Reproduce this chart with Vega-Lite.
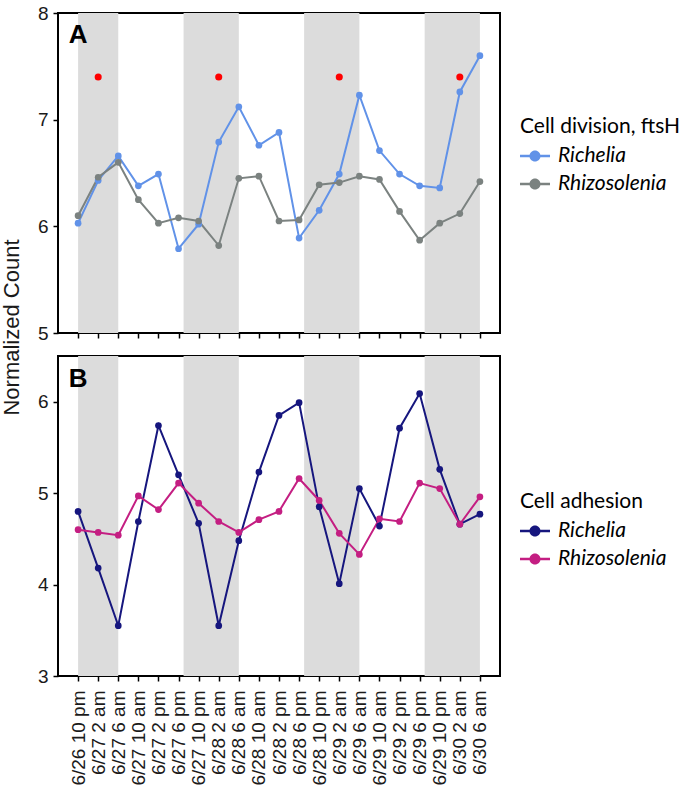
{
  "$schema": "https://vega.github.io/schema/vega-lite/v6.json",
  "padding": {"left": -1, "top": 3, "right": 5, "bottom": 5},
  "background": "white",
  "bounds": "flush",
  "spacing": 23,
  "config": {
    "font": "Liberation Sans",
    "view": {"stroke": "black", "strokeWidth": 2},
    "axis": {
      "grid": false,
      "domain": false,
      "tickColor": "black",
      "tickWidth": 1.5,
      "tickSize": 5,
      "labelFont": "Liberation Sans",
      "labelFontSize": 19,
      "labelColor": "#1a1a1a",
      "titleFont": "Liberation Sans",
      "titleFontWeight": "normal",
      "titleColor": "#1a1a1a"
    },
    "legend": {
      "labelFont": "Lato",
      "labelFontStyle": "italic",
      "labelFontSize": 21,
      "labelColor": "black",
      "titleFont": "Lato",
      "titleFontSize": 21,
      "titleFontWeight": "normal",
      "titleColor": "black",
      "labelOffset": 8,
      "rowPadding": 3,
      "titlePadding": 4,
      "padding": 0
    }
  },
  "datasets": {
    "bands": [
      {"hour": 0, "hourEnd": 8},
      {"hour": 21, "hourEnd": 32},
      {"hour": 45, "hourEnd": 56},
      {"hour": 69, "hourEnd": 80}
    ],
    "division": [
      {"hour": 0, "species": "Richelia", "value": 6.03},
      {"hour": 4, "species": "Richelia", "value": 6.43},
      {"hour": 8, "species": "Richelia", "value": 6.66},
      {"hour": 12, "species": "Richelia", "value": 6.38},
      {"hour": 16, "species": "Richelia", "value": 6.49},
      {"hour": 20, "species": "Richelia", "value": 5.79},
      {"hour": 24, "species": "Richelia", "value": 6.02},
      {"hour": 28, "species": "Richelia", "value": 6.79},
      {"hour": 32, "species": "Richelia", "value": 7.12},
      {"hour": 36, "species": "Richelia", "value": 6.76},
      {"hour": 40, "species": "Richelia", "value": 6.88},
      {"hour": 44, "species": "Richelia", "value": 5.89},
      {"hour": 48, "species": "Richelia", "value": 6.15},
      {"hour": 52, "species": "Richelia", "value": 6.49},
      {"hour": 56, "species": "Richelia", "value": 7.23},
      {"hour": 60, "species": "Richelia", "value": 6.71},
      {"hour": 64, "species": "Richelia", "value": 6.49},
      {"hour": 68, "species": "Richelia", "value": 6.38},
      {"hour": 72, "species": "Richelia", "value": 6.36},
      {"hour": 76, "species": "Richelia", "value": 7.26},
      {"hour": 80, "species": "Richelia", "value": 7.60},
      {"hour": 0, "species": "Rhizosolenia", "value": 6.10},
      {"hour": 4, "species": "Rhizosolenia", "value": 6.46},
      {"hour": 8, "species": "Rhizosolenia", "value": 6.60},
      {"hour": 12, "species": "Rhizosolenia", "value": 6.25},
      {"hour": 16, "species": "Rhizosolenia", "value": 6.03},
      {"hour": 20, "species": "Rhizosolenia", "value": 6.08},
      {"hour": 24, "species": "Rhizosolenia", "value": 6.05},
      {"hour": 28, "species": "Rhizosolenia", "value": 5.82},
      {"hour": 32, "species": "Rhizosolenia", "value": 6.45},
      {"hour": 36, "species": "Rhizosolenia", "value": 6.47},
      {"hour": 40, "species": "Rhizosolenia", "value": 6.05},
      {"hour": 44, "species": "Rhizosolenia", "value": 6.06},
      {"hour": 48, "species": "Rhizosolenia", "value": 6.39},
      {"hour": 52, "species": "Rhizosolenia", "value": 6.41},
      {"hour": 56, "species": "Rhizosolenia", "value": 6.47},
      {"hour": 60, "species": "Rhizosolenia", "value": 6.44},
      {"hour": 64, "species": "Rhizosolenia", "value": 6.14},
      {"hour": 68, "species": "Rhizosolenia", "value": 5.87},
      {"hour": 72, "species": "Rhizosolenia", "value": 6.03},
      {"hour": 76, "species": "Rhizosolenia", "value": 6.12},
      {"hour": 80, "species": "Rhizosolenia", "value": 6.42}
    ],
    "adhesion": [
      {"hour": 0, "species": "Richelia", "value": 4.80},
      {"hour": 4, "species": "Richelia", "value": 4.18},
      {"hour": 8, "species": "Richelia", "value": 3.55},
      {"hour": 12, "species": "Richelia", "value": 4.69},
      {"hour": 16, "species": "Richelia", "value": 5.74},
      {"hour": 20, "species": "Richelia", "value": 5.20},
      {"hour": 24, "species": "Richelia", "value": 4.67},
      {"hour": 28, "species": "Richelia", "value": 3.55},
      {"hour": 32, "species": "Richelia", "value": 4.48},
      {"hour": 36, "species": "Richelia", "value": 5.23},
      {"hour": 40, "species": "Richelia", "value": 5.85},
      {"hour": 44, "species": "Richelia", "value": 5.99},
      {"hour": 48, "species": "Richelia", "value": 4.85},
      {"hour": 52, "species": "Richelia", "value": 4.01},
      {"hour": 56, "species": "Richelia", "value": 5.05},
      {"hour": 60, "species": "Richelia", "value": 4.64},
      {"hour": 64, "species": "Richelia", "value": 5.71},
      {"hour": 68, "species": "Richelia", "value": 6.09},
      {"hour": 72, "species": "Richelia", "value": 5.26},
      {"hour": 76, "species": "Richelia", "value": 4.66},
      {"hour": 80, "species": "Richelia", "value": 4.77},
      {"hour": 0, "species": "Rhizosolenia", "value": 4.60},
      {"hour": 4, "species": "Rhizosolenia", "value": 4.57},
      {"hour": 8, "species": "Rhizosolenia", "value": 4.54},
      {"hour": 12, "species": "Rhizosolenia", "value": 4.97},
      {"hour": 16, "species": "Rhizosolenia", "value": 4.82},
      {"hour": 20, "species": "Rhizosolenia", "value": 5.11},
      {"hour": 24, "species": "Rhizosolenia", "value": 4.89},
      {"hour": 28, "species": "Rhizosolenia", "value": 4.69},
      {"hour": 32, "species": "Rhizosolenia", "value": 4.57},
      {"hour": 36, "species": "Rhizosolenia", "value": 4.71},
      {"hour": 40, "species": "Rhizosolenia", "value": 4.80},
      {"hour": 44, "species": "Rhizosolenia", "value": 5.16},
      {"hour": 48, "species": "Rhizosolenia", "value": 4.92},
      {"hour": 52, "species": "Rhizosolenia", "value": 4.56},
      {"hour": 56, "species": "Rhizosolenia", "value": 4.33},
      {"hour": 60, "species": "Rhizosolenia", "value": 4.72},
      {"hour": 64, "species": "Rhizosolenia", "value": 4.69},
      {"hour": 68, "species": "Rhizosolenia", "value": 5.11},
      {"hour": 72, "species": "Rhizosolenia", "value": 5.05},
      {"hour": 76, "species": "Rhizosolenia", "value": 4.66},
      {"hour": 80, "species": "Rhizosolenia", "value": 4.96}
    ],
    "significant": [
      {"hour": 4, "value": 7.4},
      {"hour": 28, "value": 7.4},
      {"hour": 52, "value": 7.4},
      {"hour": 76, "value": 7.4}
    ],
    "labelA": [{"hour": 0, "value": 7.79, "label": "A"}],
    "labelB": [{"hour": 0, "value": 6.25, "label": "B"}]
  },
  "resolve": {
    "scale": {"color": "independent", "y": "independent"},
    "legend": {"color": "independent"}
  },
  "vconcat": [
    {
      "width": 442,
      "height": 320,
      "encoding": {
        "x": {
          "field": "hour",
          "type": "quantitative",
          "scale": {"domain": [-4, 84], "nice": false, "zero": false},
          "axis": {"values": [0,4,8,12,16,20,24,28,32,36,40,44,48,52,56,60,64,68,72,76,80], "labels": false, "title": null}
        }
      },
      "layer": [
        {
          "data": {"name": "bands"},
          "mark": {"type": "rect", "color": "#dcdcdc"},
          "encoding": {"x2": {"field": "hourEnd"}}
        },
        {
          "data": {"name": "division"},
          "mark": {"type": "line", "strokeWidth": 2},
          "encoding": {
            "y": {
              "field": "value",
              "type": "quantitative",
              "scale": {"domain": [5, 8], "nice": false, "zero": false},
              "axis": {"values": [5, 6, 7, 8], "format": "d", "title": "Normalized Count", "titleFontSize": 22, "titleY": 314, "titlePadding": 14, "labelPadding": 5}
            },
            "color": {
              "field": "species",
              "type": "nominal",
              "scale": {"domain": ["Richelia", "Rhizosolenia"], "range": ["#6192e8", "#7b8280"]}
            },
            "detail": {"field": "species"}
          }
        },
        {
          "data": {"name": "division"},
          "mark": {"type": "point", "filled": true, "opacity": 1, "size": 45},
          "encoding": {
            "y": {"field": "value", "type": "quantitative"},
            "color": {
              "field": "species",
              "type": "nominal",
              "scale": {"domain": ["Richelia", "Rhizosolenia"], "range": ["#6192e8", "#7b8280"]},
              "legend": {
                "title": "Cell division, ftsH",
                "orient": "none",
                "legendX": 462,
                "legendY": 103,
                "symbolType": "M-1,-0.09H1V0.09H-1Z M0.37,0A0.37,0.37 0 1,1 -0.37,0A0.37,0.37 0 1,1 0.37,0Z",
                "symbolSize": 900,
                "symbolStrokeWidth": 0
              }
            }
          }
        },
        {
          "data": {"name": "significant"},
          "mark": {"type": "point", "filled": true, "opacity": 1, "size": 50, "color": "#ff0000"},
          "encoding": {
            "y": {"field": "value", "type": "quantitative"}
          }
        },
        {
          "data": {"name": "labelA"},
          "mark": {"type": "text", "fontSize": 26, "fontWeight": "bold", "font": "Liberation Sans", "color": "black", "align": "center", "baseline": "middle"},
          "encoding": {
            "y": {"field": "value", "type": "quantitative"},
            "text": {"field": "label"}
          }
        }
      ]
    },
    {
      "width": 442,
      "height": 320,
      "encoding": {
        "x": {
          "field": "hour",
          "type": "quantitative",
          "scale": {"domain": [-4, 84], "nice": false, "zero": false},
          "axis": {
            "values": [0,4,8,12,16,20,24,28,32,36,40,44,48,52,56,60,64,68,72,76,80],
            "title": null,
            "labelAngle": 270,
            "labelAlign": "right",
            "labelBaseline": "middle",
            "labelPadding": 9,
            "labelOverlap": false,
            "labelFlush": false,
            "labelExpr": "['6/26 10 pm','6/27 2 am','6/27 6 am','6/27 10 am','6/27 2 pm','6/27 6 pm','6/27 10 pm','6/28 2 am','6/28 6 am','6/28 10 am','6/28 2 pm','6/28 6 pm','6/28 10 pm','6/29 2 am','6/29 6 am','6/29 10 am','6/29 2 pm','6/29 6 pm','6/29 10 pm','6/30 2 am','6/30 6 am'][round(datum.value / 4)]"
          }
        }
      },
      "layer": [
        {
          "data": {"name": "bands"},
          "mark": {"type": "rect", "color": "#dcdcdc"},
          "encoding": {"x2": {"field": "hourEnd"}}
        },
        {
          "data": {"name": "adhesion"},
          "mark": {"type": "line", "strokeWidth": 2},
          "encoding": {
            "y": {
              "field": "value",
              "type": "quantitative",
              "scale": {"domain": [3, 6.5], "nice": false, "zero": false},
              "axis": {"values": [3, 4, 5, 6], "format": "d", "title": null, "labelPadding": 5}
            },
            "color": {
              "field": "species",
              "type": "nominal",
              "scale": {"domain": ["Richelia", "Rhizosolenia"], "range": ["#16167e", "#c41e82"]}
            },
            "detail": {"field": "species"}
          }
        },
        {
          "data": {"name": "adhesion"},
          "mark": {"type": "point", "filled": true, "opacity": 1, "size": 45},
          "encoding": {
            "y": {"field": "value", "type": "quantitative"},
            "color": {
              "field": "species",
              "type": "nominal",
              "scale": {"domain": ["Richelia", "Rhizosolenia"], "range": ["#16167e", "#c41e82"]},
              "legend": {
                "title": "Cell adhesion",
                "orient": "none",
                "legendX": 462,
                "legendY": 135,
                "symbolType": "M-1,-0.09H1V0.09H-1Z M0.37,0A0.37,0.37 0 1,1 -0.37,0A0.37,0.37 0 1,1 0.37,0Z",
                "symbolSize": 900,
                "symbolStrokeWidth": 0
              }
            }
          }
        },
        {
          "data": {"name": "labelB"},
          "mark": {"type": "text", "fontSize": 26, "fontWeight": "bold", "font": "Liberation Sans", "color": "black", "align": "center", "baseline": "middle"},
          "encoding": {
            "y": {"field": "value", "type": "quantitative"},
            "text": {"field": "label"}
          }
        }
      ]
    }
  ]
}
